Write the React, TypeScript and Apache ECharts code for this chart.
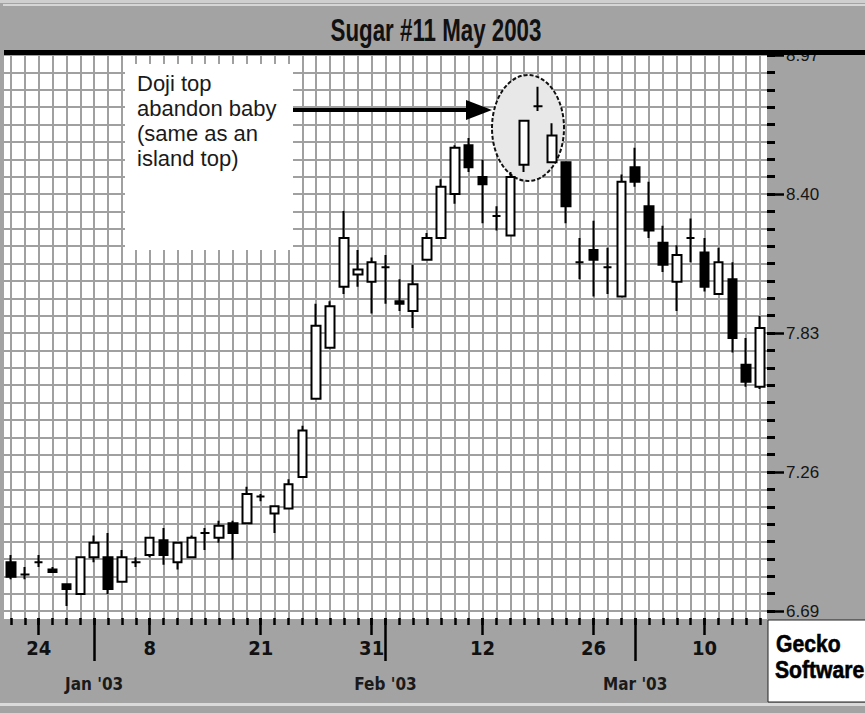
import React, { useEffect, useRef } from 'react';
import * as echarts from 'echarts';

// Trading days (category axis)
const dates = [
  '12/20', '12/23', '12/24', '12/27', '12/30', '12/31',
  '1/2', '1/3', '1/6', '1/7', '1/8', '1/9', '1/10', '1/13', '1/14', '1/15', '1/16', '1/17',
  '1/21', '1/22', '1/23', '1/24', '1/27', '1/28', '1/29', '1/30', '1/31',
  '2/3', '2/4', '2/5', '2/6', '2/7', '2/10', '2/11', '2/12', '2/13', '2/18', '2/19', '2/20',
  '2/21', '2/24', '2/25', '2/26', '2/27', '2/28',
  '3/3', '3/4', '3/5', '3/6', '3/7', '3/10', '3/11', '3/12', '3/13', '3/14',
];

const opens = [
  6.89, 6.84, 6.89, 6.86, 6.80, 6.76, 6.91, 6.91, 6.81, 6.89,
  6.92, 6.98, 6.89, 6.91, 7.01, 6.99, 7.05, 7.05, 7.16, 7.09,
  7.11, 7.24, 7.56, 7.77, 8.02, 8.07, 8.04, 8.10, 7.96, 7.92,
  8.13, 8.22, 8.40, 8.60, 8.47, 8.31, 8.23, 8.52, 8.76, 8.53,
  8.53, 8.12, 8.17, 8.10, 7.98, 8.51, 8.35, 8.20, 8.04, 8.22,
  8.16, 7.99, 8.05, 7.70, 7.61,
];
const closes = [
  6.83, 6.84, 6.89, 6.85, 6.78, 6.91, 6.97, 6.78, 6.91, 6.89,
  6.99, 6.92, 6.97, 6.99, 7.01, 7.04, 7.01, 7.17, 7.16, 7.12,
  7.21, 7.43, 7.86, 7.94, 8.22, 8.09, 8.12, 8.10, 7.95, 8.03,
  8.22, 8.43, 8.59, 8.51, 8.44, 8.31, 8.47, 8.70, 8.76, 8.64,
  8.35, 8.12, 8.13, 8.10, 8.45, 8.45, 8.25, 8.11, 8.15, 8.22,
  8.02, 8.12, 7.81, 7.63, 7.85,
];
const lows = [
  6.82, 6.82, 6.87, 6.85, 6.71, 6.76, 6.89, 6.76, 6.81, 6.87,
  6.91, 6.88, 6.86, 6.91, 6.94, 6.97, 6.90, 7.05, 7.14, 7.01,
  7.11, 7.24, 7.56, 7.77, 7.99, 8.02, 7.91, 7.95, 7.92, 7.85,
  8.13, 8.22, 8.36, 8.49, 8.28, 8.25, 8.23, 8.49, 8.74, 8.53,
  8.28, 8.05, 7.98, 7.99, 7.98, 8.43, 8.22, 8.08, 7.92, 8.12,
  8.00, 7.99, 7.75, 7.61, 7.60,
];
const highs = [
  6.92, 6.87, 6.92, 6.87, 6.80, 6.91, 7.00, 7.01, 6.94, 6.91,
  6.99, 7.03, 6.97, 7.00, 7.03, 7.06, 7.06, 7.20, 7.17, 7.12,
  7.23, 7.45, 7.95, 7.96, 8.33, 8.17, 8.14, 8.15, 8.05, 8.11,
  8.24, 8.46, 8.60, 8.63, 8.54, 8.35, 8.49, 8.70, 8.84, 8.69,
  8.53, 8.22, 8.29, 8.18, 8.48, 8.59, 8.45, 8.27, 8.19, 8.30,
  8.22, 8.18, 8.12, 7.81, 7.90,
];

const dayLabelDates = ['12/24', '1/8', '1/21', '1/31', '2/12', '2/26', '3/10'];
const monthStartDates = ['1/2', '2/3', '3/3'];
const monthLabels = ["Jan '03", "Feb '03", "Mar '03"];
const priceTickLabels = ['6.69', '7.26', '7.83', '8.40', '8.97'];

// price axis: bottom 6.69, one grid row = 0.07125, labels every 8 rows
const priceMin = 6.69;
const priceStep = 0.07125;
const rows = 32;

const toRows = (p: number) => (p - priceMin) / priceStep;

const COND = '"DejaVu Sans Condensed", "Liberation Sans Narrow", sans-serif';
const SANS = '"Liberation Sans", Arial, Helvetica, sans-serif';
const GRID = '#a0a0a0';
const BG = '#a3a3a3';

export default function App() {
  const ref = useRef<HTMLDivElement>(null);

  useEffect(() => {
    if (!ref.current) return;
    const chart = echarts.init(ref.current, undefined, { renderer: 'svg' });

    const data = dates.map((_, i) => [
      toRows(opens[i]),
      toRows(closes[i]),
      toRows(lows[i]),
      toRows(highs[i]),
    ]);

    const hiddenLine = { show: false, onZero: false };

    const option: any = {
      animation: false,
      backgroundColor: BG,
      grid: {
        left: 4,
        right: 98,
        top: 55,
        bottom: 102,
        show: true,
        backgroundColor: '#ffffff',
        borderWidth: 0,
      },
      xAxis: [
        {
          type: 'category',
          data: dates,
          position: 'bottom',
          axisLine: hiddenLine,
          axisLabel: { show: false },
          axisTick: { show: true, alignWithLabel: true, interval: 0, length: 8, lineStyle: { color: GRID, width: 2 } },
          splitLine: { show: true, alignWithLabel: true, interval: 0, lineStyle: { color: GRID, width: 2 } },
        },
        {
          type: 'category',
          data: dates,
          position: 'bottom',
          offset: 7,
          axisLine: hiddenLine,
          splitLine: { show: false },
          axisTick: { show: true, alignWithLabel: true, interval: 0, length: 7, lineStyle: { color: '#000', width: 2.5 } },
          axisLabel: {
            show: true,
            interval: (_i: number, v: string) => dayLabelDates.includes(v),
            formatter: (v: string) => v.split('/')[1],
            margin: 20,
            fontSize: 20,
            fontWeight: 'bold',
            fontFamily: COND,
            color: '#111',
          },
        },
        {
          type: 'category',
          data: dates,
          position: 'bottom',
          offset: 7,
          axisLine: hiddenLine,
          splitLine: { show: false },
          axisLabel: { show: false },
          axisTick: {
            show: true,
            alignWithLabel: true,
            interval: (_i: number, v: string) => dayLabelDates.includes(v),
            length: 17,
            lineStyle: { color: '#000', width: 2.5 },
          },
        },
        {
          type: 'category',
          data: dates,
          position: 'bottom',
          offset: 7,
          axisLine: hiddenLine,
          splitLine: { show: false },
          axisTick: {
            show: true,
            alignWithLabel: true,
            interval: (_i: number, v: string) => monthStartDates.includes(v),
            length: 43,
            lineStyle: { color: '#000', width: 2.5 },
          },
          axisLabel: {
            show: true,
            interval: (_i: number, v: string) => monthStartDates.includes(v),
            formatter: (v: string) => monthLabels[monthStartDates.indexOf(v)],
            margin: 57,
            fontSize: 17,
            fontWeight: 'bold',
            fontFamily: COND,
            color: '#1a1a1a',
          },
        },
      ],
      yAxis: [
        {
          type: 'value',
          min: 0,
          max: rows,
          interval: 1,
          position: 'right',
          axisLine: { show: false },
          axisLabel: { show: false },
          axisTick: { show: true, length: 8, lineStyle: { color: '#000', width: 3 } },
          splitLine: { show: true, lineStyle: { color: GRID, width: 2 } },
        },
        {
          type: 'value',
          min: 0,
          max: rows,
          interval: 8,
          position: 'right',
          axisLine: { show: false },
          splitLine: { show: false },
          axisTick: { show: true, length: 17, lineStyle: { color: '#000', width: 2.5 } },
          axisLabel: {
            show: true,
            showMinLabel: true,
            showMaxLabel: true,
            margin: 19,
            fontSize: 17,
            fontFamily: SANS,
            color: '#151515',
            formatter: (v: number) => priceTickLabels[Math.round(v / 8)] ?? '',
          },
        },
      ],
      series: [
        {
          type: 'candlestick',
          xAxisIndex: 0,
          yAxisIndex: 0,
          data,
          barWidth: 9,
          itemStyle: {
            color: '#ffffff',
            color0: '#000000',
            borderColor: '#000000',
            borderColor0: '#000000',
            borderColorDoji: '#000000',
            borderWidth: 2,
          },
        },
      ],
      graphic: [
        // white strip under the last grid row
        { type: 'rect', z: -1, shape: { x: 4, y: 611, width: 763, height: 8 }, style: { fill: '#ffffff' } },
        // annotation box
        { type: 'rect', z: 1, shape: { x: 125, y: 64, width: 168, height: 186 }, style: { fill: '#ffffff' } },
        {
          type: 'text',
          z: 3,
          x: 137,
          y: 71,
          style: {
            text: 'Doji top\nabandon baby\n(same as an\nisland top)',
            font: '22px ' + SANS,
            lineHeight: 25,
            fill: '#1a1a1a',
            verticalAlign: 'top',
          },
        },
        // arrow
        { type: 'line', z: 3, shape: { x1: 293, y1: 110, x2: 470, y2: 110 }, style: { stroke: '#000', lineWidth: 4 } },
        { type: 'polygon', z: 3, shape: { points: [[466, 100], [492, 110], [466, 120]] }, style: { fill: '#000' } },
        // highlight ellipse
        {
          type: 'ellipse',
          z: 1,
          shape: { cx: 528, cy: 128, rx: 36, ry: 53 },
          style: { fill: '#e8e8e8', stroke: '#111', lineWidth: 2, lineDash: [4, 2] },
        },
        // title bar
        { type: 'rect', z: 1000, shape: { x: 0, y: 0, width: 865, height: 50 }, style: { fill: BG } },
        { type: 'rect', z: 1000, shape: { x: 0, y: 0, width: 865, height: 3 }, style: { fill: '#cfcfcf' } },
        { type: 'rect', z: 1000, shape: { x: 3, y: 4, width: 862, height: 2 }, style: { fill: '#d6d6d6' } },
        { type: 'rect', z: 1000, shape: { x: 4, y: 50, width: 861, height: 5 }, style: { fill: '#000' } },
        {
          type: 'text',
          z: 1001,
          x: 436,
          y: 31,
          scaleX: 0.72,
          style: {
            text: 'Sugar #11 May 2003',
            font: 'bold 31px ' + SANS,
            fill: '#111',
            align: 'center',
            verticalAlign: 'middle',
            shadowColor: 'rgba(40,40,40,0.6)',
            shadowBlur: 2,
            shadowOffsetX: 1,
            shadowOffsetY: 1,
          },
        },
        // bottom frame line
        { type: 'rect', z: 1000, shape: { x: 0, y: 703, width: 865, height: 3 }, style: { fill: '#dadada' } },
        // logo box
        {
          type: 'rect',
          z: 1000,
          shape: { x: 768, y: 620, width: 100, height: 82 },
          style: { fill: '#ffffff', stroke: '#222', lineWidth: 1 },
        },
        {
          type: 'text',
          z: 1001,
          x: 776,
          y: 644,
          scaleX: 0.88,
          style: { text: 'Gecko', font: 'bold 24px ' + SANS, fill: '#000', stroke: '#000', lineWidth: 0.6, verticalAlign: 'middle' },
        },
        {
          type: 'text',
          z: 1001,
          x: 775,
          y: 670,
          scaleX: 0.88,
          style: { text: 'Software', font: 'bold 24px ' + SANS, fill: '#000', stroke: '#000', lineWidth: 0.6, verticalAlign: 'middle' },
        },
      ],
    };

    chart.setOption(option);
    return () => chart.dispose();
  }, []);

  return (
    <div
      ref={ref}
      style={{ position: 'fixed', left: 0, top: 0, width: 865, height: 713 }}
    />
  );
}
